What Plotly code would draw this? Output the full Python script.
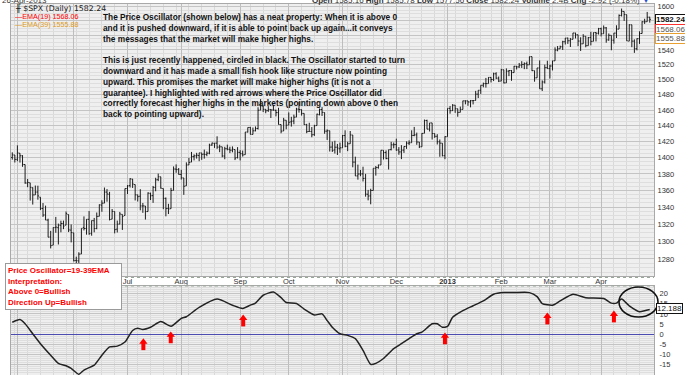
import math
import pandas as pd
import plotly.graph_objects as go

# ---------------- data ----------------
first_day, last_day = "2012-04-27", "2013-04-26"
market_holidays = ["2012-05-28", "2012-07-04", "2012-09-03", "2012-10-29", "2012-10-30",
                   "2012-11-22", "2012-12-25", "2013-01-01", "2013-01-21", "2013-02-18",
                   "2013-03-29"]
# May and Jun labels sit under the oscillator note box in the reference, so they are blank
month_labels = ["", "", "Jul", "Aug", "Sep", "Oct", "Nov", "Dec", "<b>2013</b>",
                "Feb", "Mar", "Apr"]

open_ = [1400.2, 1403.3,
         1397.9, 1405.5, 1402.3, 1391.5, 1368.8, 1369.2, 1363.2, 1354.6, 1358.1, 1351.9, 1338.4, 1330.8, 1324.8, 1305.1, 1295.7, 1316.1, 1316.0, 1318.7, 1320.8, 1318.9, 1331.3, 1313.1,
         1309.9, 1278.3, 1277.8, 1285.6, 1316.2, 1315.0, 1325.7, 1309.4, 1324.0, 1314.9, 1329.2, 1342.4, 1344.8, 1358.0, 1355.4, 1325.9, 1334.9, 1314.1, 1320.1, 1331.5, 1330.1,
         1362.3, 1365.8, 1373.7, 1367.1, 1354.7, 1353.0, 1341.4, 1341.4, 1334.8, 1356.5, 1353.7, 1363.6, 1373.0, 1376.5, 1362.3, 1350.5, 1338.4, 1338.2, 1360.1, 1385.9, 1385.3,
         1379.3, 1375.1, 1365.5, 1391.0, 1394.5, 1401.2, 1402.3, 1402.6, 1405.9, 1404.4, 1403.9, 1405.6, 1415.8, 1417.9, 1418.1, 1413.1, 1413.5, 1402.0, 1411.1, 1410.4, 1409.3, 1410.1, 1400.1,
         1406.5, 1404.9, 1403.7, 1432.1, 1437.9, 1429.1, 1433.6, 1436.6, 1460.1, 1465.4, 1461.2, 1459.5, 1461.0, 1460.3, 1459.8, 1456.9, 1441.6, 1433.4, 1447.1,
         1440.9, 1445.0, 1446.1, 1451.1, 1461.4, 1460.9, 1455.9, 1441.5, 1432.8, 1432.8, 1428.8, 1440.3, 1454.2, 1460.9, 1457.1, 1433.2, 1433.7, 1413.2, 1409.7, 1413.0, 1411.0,
         1412.2, 1427.6, 1414.0, 1417.3, 1428.3, 1394.5, 1377.6, 1379.9, 1380.0, 1374.6, 1355.4, 1353.4, 1359.9, 1386.8, 1387.8, 1391.0, 1409.2, 1406.3, 1398.8, 1410.0, 1416.0,
         1416.3, 1409.5, 1407.1, 1409.4, 1414.0, 1418.1, 1418.6, 1427.8, 1428.5, 1419.5, 1413.5, 1430.5, 1446.8, 1435.8, 1443.7, 1430.2, 1426.7, 1419.8, 1418.1, 1402.4,
         1426.2, 1462.4, 1459.4, 1466.5, 1461.9, 1457.2, 1461.0, 1472.1, 1472.1, 1470.7, 1472.3, 1472.6, 1480.9, 1486.0, 1492.6, 1494.8, 1494.8, 1503.0, 1500.2, 1507.8, 1502.0,
         1498.1, 1513.2, 1495.7, 1511.3, 1512.1, 1509.4, 1517.9, 1517.0, 1519.4, 1520.3, 1521.4, 1519.8, 1530.9, 1512.0, 1502.4, 1515.6, 1487.9, 1496.9, 1516.0,
         1514.7, 1518.2, 1525.2, 1539.8, 1541.5, 1544.3, 1551.2, 1556.2, 1552.5, 1554.5, 1563.2, 1560.7, 1552.1, 1548.3, 1558.7, 1545.8, 1556.9, 1551.7, 1563.8, 1562.9,
         1569.2, 1562.2, 1570.3, 1553.7, 1560.0, 1553.3, 1563.1, 1568.6, 1587.7, 1593.3, 1588.8, 1552.0, 1574.6, 1552.0, 1541.6, 1555.3, 1562.5, 1578.8, 1578.9, 1585.2]

high = [1406.6, 1403.3,
        1415.3, 1405.5, 1403.1, 1391.5, 1373.9, 1369.2, 1363.7, 1365.9, 1365.7, 1351.9, 1344.9, 1341.8, 1326.4, 1312.2, 1316.4, 1328.5, 1320.7, 1324.1, 1324.2, 1334.9, 1331.3, 1319.7,
        1309.9, 1282.6, 1287.6, 1315.1, 1329.1, 1325.8, 1335.5, 1324.3, 1327.3, 1333.7, 1343.3, 1348.2, 1363.5, 1361.6, 1358.3, 1337.8, 1334.9, 1324.2, 1334.4, 1331.5, 1362.2,
        1366.4, 1374.8, 1373.9, 1367.1, 1354.9, 1361.5, 1345.0, 1341.4, 1357.7, 1357.3, 1365.4, 1375.3, 1380.4, 1376.5, 1362.3, 1351.5, 1344.0, 1363.1, 1389.2, 1391.7, 1387.2,
        1385.0, 1375.1, 1394.2, 1399.6, 1407.1, 1404.1, 1406.0, 1406.0, 1405.9, 1410.0, 1407.7, 1417.4, 1418.7, 1418.1, 1426.7, 1416.1, 1413.5, 1413.5, 1416.2, 1413.6, 1414.0, 1410.1, 1413.1,
        1409.3, 1408.8, 1432.1, 1437.9, 1438.7, 1437.8, 1439.2, 1463.8, 1474.5, 1465.6, 1461.5, 1465.2, 1461.2, 1467.1, 1460.7, 1463.2, 1441.6, 1450.2, 1447.1,
        1457.1, 1451.5, 1454.3, 1463.1, 1471.0, 1460.9, 1455.9, 1442.5, 1443.9, 1438.4, 1441.3, 1455.5, 1462.2, 1464.0, 1457.1, 1435.5, 1433.7, 1420.0, 1421.1, 1417.1, 1418.8,
        1428.4, 1434.3, 1419.9, 1433.4, 1428.3, 1401.2, 1391.4, 1384.9, 1388.8, 1380.1, 1360.6, 1362.0, 1386.9, 1389.7, 1391.3, 1409.2, 1409.2, 1409.0, 1410.0, 1419.7, 1418.9,
        1423.7, 1413.1, 1415.6, 1414.0, 1420.3, 1421.6, 1434.3, 1438.6, 1431.4, 1419.5, 1430.7, 1448.0, 1447.8, 1443.7, 1443.7, 1430.2, 1429.4, 1422.7, 1418.1, 1426.7,
        1462.4, 1465.5, 1467.9, 1466.5, 1461.9, 1464.7, 1472.3, 1472.8, 1472.1, 1473.3, 1473.0, 1485.2, 1486.0, 1492.6, 1496.1, 1502.3, 1503.3, 1503.2, 1509.3, 1509.9, 1504.2,
        1514.4, 1513.2, 1515.0, 1512.5, 1512.9, 1518.3, 1518.3, 1522.3, 1524.7, 1523.1, 1524.2, 1530.9, 1530.9, 1512.0, 1515.6, 1525.8, 1499.0, 1520.1, 1525.3,
        1520.0, 1525.3, 1543.5, 1545.3, 1545.8, 1552.5, 1556.3, 1556.8, 1556.4, 1563.3, 1563.6, 1560.7, 1557.3, 1561.6, 1558.7, 1557.7, 1564.9, 1563.9, 1564.1, 1570.3,
        1570.6, 1573.7, 1571.5, 1562.6, 1560.0, 1563.1, 1573.9, 1589.1, 1597.4, 1593.3, 1588.8, 1575.4, 1574.6, 1554.4, 1555.9, 1565.6, 1579.6, 1583.0, 1592.6, 1585.8]

low = [1397.5, 1394.0,
       1395.7, 1393.9, 1388.7, 1368.0, 1363.9, 1347.8, 1343.1, 1354.6, 1348.9, 1336.6, 1328.5, 1324.8, 1304.9, 1292.0, 1295.7, 1310.0, 1296.5, 1310.5, 1314.2, 1318.9, 1310.8, 1298.9,
       1277.3, 1266.7, 1274.7, 1285.6, 1312.7, 1307.8, 1307.7, 1306.6, 1310.5, 1314.1, 1329.2, 1334.5, 1344.8, 1346.5, 1324.4, 1325.9, 1309.3, 1310.3, 1320.1, 1313.3, 1330.1,
       1355.7, 1363.5, 1363.0, 1348.0, 1346.7, 1336.3, 1333.3, 1325.4, 1334.8, 1348.5, 1345.1, 1359.0, 1371.2, 1362.2, 1337.6, 1329.2, 1331.9, 1338.2, 1360.1, 1381.4, 1379.2,
       1373.1, 1354.7, 1365.5, 1391.0, 1394.5, 1396.6, 1398.8, 1395.6, 1397.3, 1398.8, 1401.8, 1404.2, 1414.7, 1412.1, 1410.9, 1406.8, 1400.5, 1398.0, 1409.1, 1405.6, 1406.6, 1397.0, 1399.0,
       1396.6, 1401.3, 1403.7, 1431.5, 1429.0, 1429.1, 1433.0, 1435.3, 1460.1, 1457.6, 1456.1, 1457.9, 1450.0, 1459.5, 1452.1, 1441.6, 1430.5, 1433.4, 1435.6,
       1440.9, 1439.0, 1442.0, 1451.1, 1456.9, 1453.1, 1441.2, 1430.6, 1432.8, 1425.5, 1427.2, 1440.3, 1453.4, 1452.6, 1429.9, 1422.1, 1407.6, 1407.1, 1405.1, 1403.3, 1406.0,
       1412.2, 1412.9, 1408.1, 1417.3, 1388.1, 1377.5, 1373.0, 1377.2, 1370.8, 1352.5, 1348.1, 1343.4, 1359.9, 1377.9, 1386.4, 1391.0, 1397.7, 1398.0, 1385.4, 1409.0, 1411.6,
       1408.5, 1403.6, 1398.2, 1405.9, 1410.9, 1415.6, 1418.6, 1426.8, 1416.0, 1411.9, 1413.5, 1430.5, 1435.8, 1432.8, 1422.6, 1424.7, 1416.4, 1401.1, 1401.6, 1398.1,
       1426.2, 1455.5, 1459.0, 1456.6, 1451.6, 1457.2, 1461.0, 1467.6, 1465.7, 1463.7, 1467.5, 1472.6, 1475.8, 1481.2, 1489.9, 1489.5, 1494.8, 1496.3, 1498.1, 1501.0, 1496.8,
       1498.1, 1495.0, 1495.7, 1504.7, 1498.5, 1509.4, 1513.6, 1515.6, 1515.6, 1514.0, 1514.1, 1519.8, 1511.4, 1497.3, 1502.4, 1487.9, 1485.0, 1494.9, 1514.5,
       1501.5, 1512.3, 1525.2, 1538.1, 1541.5, 1539.9, 1547.4, 1548.2, 1544.0, 1554.5, 1555.7, 1545.1, 1538.6, 1548.3, 1543.6, 1545.8, 1546.2, 1551.7, 1551.6, 1561.1,
       1558.5, 1562.2, 1549.8, 1552.5, 1539.5, 1548.6, 1556.3, 1568.6, 1586.2, 1580.0, 1552.3, 1552.0, 1543.7, 1536.0, 1539.4, 1548.2, 1562.5, 1575.8, 1578.9, 1577.6]

close = [1403.4, 1397.9,
         1405.8, 1402.3, 1391.6, 1369.1, 1369.6, 1363.7, 1354.6, 1358.0, 1353.4, 1338.4, 1330.7, 1324.8, 1304.9, 1295.2, 1316.0, 1316.6, 1318.9, 1320.7, 1317.8, 1332.4, 1313.3, 1310.3,
         1278.0, 1278.2, 1285.5, 1315.1, 1315.0, 1325.7, 1308.9, 1324.2, 1314.9, 1329.1, 1342.8, 1344.8, 1358.0, 1355.7, 1325.5, 1335.0, 1313.7, 1320.0, 1331.9, 1329.0, 1362.2,
         1365.5, 1374.0, 1367.6, 1354.7, 1352.5, 1341.5, 1341.5, 1334.8, 1356.8, 1353.6, 1363.7, 1372.8, 1376.5, 1362.7, 1350.5, 1338.3, 1337.9, 1360.0, 1386.0, 1385.3, 1379.3,
         1375.3, 1365.0, 1391.0, 1394.2, 1401.4, 1402.2, 1403.0, 1405.9, 1404.1, 1403.9, 1405.5, 1415.5, 1418.2, 1418.1, 1413.2, 1413.5, 1402.1, 1411.1, 1410.4, 1409.3, 1410.5, 1399.5, 1406.6,
         1404.9, 1403.4, 1432.1, 1437.9, 1429.1, 1433.6, 1436.6, 1460.0, 1465.8, 1461.2, 1459.3, 1461.1, 1460.3, 1460.2, 1456.9, 1441.6, 1433.3, 1447.2, 1440.7,
         1444.5, 1445.8, 1451.0, 1461.4, 1460.9, 1455.9, 1441.5, 1432.6, 1432.8, 1428.6, 1440.1, 1454.9, 1460.9, 1457.3, 1433.2, 1433.8, 1413.1, 1408.8, 1413.0, 1411.9, 1412.2,
         1427.6, 1414.2, 1417.3, 1428.4, 1394.5, 1377.5, 1379.9, 1380.0, 1374.5, 1355.5, 1353.3, 1359.9, 1386.9, 1387.8, 1391.0, 1409.2, 1406.3, 1398.9, 1409.9, 1416.0, 1416.2,
         1409.5, 1407.1, 1409.3, 1413.9, 1418.1, 1418.6, 1427.8, 1428.5, 1419.5, 1413.6, 1430.4, 1446.8, 1435.8, 1443.7, 1430.2, 1426.7, 1419.8, 1418.1, 1402.4, 1426.2,
         1462.4, 1459.4, 1466.5, 1461.9, 1457.2, 1461.0, 1472.1, 1472.1, 1470.7, 1472.3, 1472.6, 1480.9, 1486.0, 1492.6, 1494.8, 1494.8, 1503.0, 1500.2, 1507.8, 1502.0, 1498.1,
         1513.2, 1495.7, 1511.3, 1512.1, 1509.4, 1517.9, 1517.0, 1519.4, 1520.3, 1521.4, 1519.8, 1530.9, 1512.0, 1502.4, 1515.6, 1487.9, 1496.9, 1516.0, 1514.7,
         1518.2, 1525.2, 1539.8, 1541.5, 1544.3, 1551.2, 1556.2, 1552.5, 1554.5, 1563.2, 1560.7, 1552.1, 1548.3, 1558.7, 1545.8, 1556.9, 1551.7, 1563.8, 1562.9, 1569.2,
         1562.2, 1570.3, 1553.7, 1560.0, 1553.3, 1563.1, 1568.6, 1587.7, 1593.4, 1588.9, 1552.4, 1574.6, 1552.0, 1541.6, 1555.3, 1562.5, 1578.8, 1578.8, 1585.2, 1582.2]

# price oscillator (EMA19 - EMA39) at bar positions
osc_idx = [0, 3, 5, 8, 11, 15, 18, 21, 23, 26, 28, 32, 35, 38, 41, 44, 47, 49, 51, 54,
           58, 62, 66, 68, 73, 80, 86, 90, 93, 95, 98, 102, 105, 107, 111, 114, 118, 121, 123, 125,
           128, 131, 134, 137, 140, 142, 145, 149, 152, 155, 158, 160, 164, 166, 168, 170, 172, 176, 180, 184,
           188, 192, 196, 202, 205, 207, 211, 214, 219, 224, 231, 234, 236, 238, 241, 245, 247, 249]
osc_val = [5.9, 7.2, 5.1, 0.2, -4.7, -10.4, -14.4, -15.6, -16.9, -19.8, -17.7, -15.3, -10.4, -6.3, -5.9, -3.9, 1.8, 2.9, 2.3, 3.4,
           6.2, 3.9, 7.8, 8.6, 13.2, 17.3, 14.3, 12.7, 14.3, 15.3, 19.2, 20.8, 18.0, 15.6, 15.1, 12.4, 9.5, 10.0, 6.7, 3.4,
           0.2, -0.6, -2.2, -8.0, -14.9, -14.4, -12.0, -7.1, -4.7, -2.2, 0.2, 1.0, 5.1, 5.1, 3.4, 3.8, 8.3, 11.6, 14.0, 16.4,
           19.7, 20.5, 20.5, 20.5, 18.5, 15.1, 14.3, 16.4, 19.7, 18.0, 17.6, 15.3, 15.3, 17.3, 14.0, 11.1, 11.6, 12.19]

# red arrows (bar position, oscillator value at arrow tip)
arrow_idx = [51.2, 61.9, 90.2, 169.0, 209.0, 235.0]
arrow_tip = [-2.1, 1.3, 9.6, 0.8, 10.6, 11.6]

last_close, ema19_last, ema39_last, osc_last = 1582.24, 1568.06, 1555.88, 12.188
price_ticks = list(range(1280, 1601, 20))
price_hidden = [1580, 1560]          # covered by the value tags in the reference
osc_ticks = list(range(-20, 21, 5))

# ---------------- derived positions ----------------
dates = pd.bdate_range(first_day, last_day)
dates = dates[~dates.isin(pd.to_datetime(market_holidays))]
n = len(dates)
assert n == len(open_) == len(high) == len(low) == len(close), (n, len(open_), len(high), len(low), len(close))
xs = list(range(n))
month_start = [i for i in xs if i > 0 and dates[i].month != dates[i - 1].month]
week_start = [i for i in xs if i > 0 and dates[i].weekday() < dates[i - 1].weekday()]

W, H = 685, 375
ML, MR, MT, MB = 11, 31, 4, 0
PW, PH = W - ML - MR, H - MT - MB


def py(p):  # figure pixel row -> paper y
    return (H - MB - p) / PH


def px(p):  # figure pixel column -> paper x
    return (p - ML) / PW


price_dom = [py(276), 1.0]
osc_dom = [0.0, py(286)]
x_range = [-0.5, 250.66]
logtop = math.log10(1600) + (6.7 - 4) / 2603
logbot = math.log10(1600) - (276 - 6.7) / 2603
osc_range = [-20.15, 23.76]
osc_px_per_unit = (osc_dom[1] - osc_dom[0]) * PH / (osc_range[1] - osc_range[0])

FONT = "Liberation Sans, Arial, sans-serif"
GRID_MAJ, GRID_MIN = "#bdbdbd", "#d9d9d9"

fig = go.Figure()
fig.add_trace(go.Ohlc(
    x=xs, open=open_, high=high, low=low, close=close, xaxis="x", yaxis="y",
    increasing=dict(line=dict(color="#1c1c1c", width=1)),
    decreasing=dict(line=dict(color="#1c1c1c", width=1)),
    tickwidth=0.42, showlegend=False, hoverinfo="skip"))

fig.add_trace(go.Scatter(
    x=osc_idx, y=osc_val, xaxis="x2", yaxis="y2", mode="lines",
    line=dict(color="#222222", width=1.5, shape="spline", smoothing=0.6),
    showlegend=False, hoverinfo="skip"))

head_y = [t - 3.5 / osc_px_per_unit for t in arrow_tip]
stem_y = [t - 7.8 / osc_px_per_unit for t in arrow_tip]
fig.add_trace(go.Scatter(
    x=arrow_idx, y=stem_y, xaxis="x2", yaxis="y2", mode="markers",
    marker=dict(symbol="line-ns", size=5.6, line=dict(color="#ff0000", width=4)),
    showlegend=False, hoverinfo="skip", cliponaxis=False))
fig.add_trace(go.Scatter(
    x=arrow_idx, y=head_y, xaxis="x2", yaxis="y2", mode="markers",
    marker=dict(symbol="triangle-up", size=7.2, color="#ff0000", line=dict(width=0)),
    showlegend=False, hoverinfo="skip", cliponaxis=False))

tickfont = dict(family=FONT, size=7.5, color="#333333")
common_x = dict(range=x_range, tickmode="array", tickvals=month_start, ticks="",
                showgrid=True, gridcolor=GRID_MAJ, gridwidth=1,
                minor=dict(tickvals=week_start, showgrid=True, gridcolor=GRID_MIN, ticks=""),
                zeroline=False, showline=True, linecolor="#a9a9a9", linewidth=1, mirror=True,
                fixedrange=True)

fig.update_layout(
    width=W, height=H, margin=dict(l=ML, r=MR, t=MT, b=MB),
    paper_bgcolor="white", plot_bgcolor="#efefef", showlegend=False,
    font=dict(family=FONT, size=8, color="#222"),
    xaxis=dict(domain=[0, 1], anchor="y", ticktext=month_labels, tickfont=tickfont,
               ticklabelstandoff=-2, rangeslider=dict(visible=False), **common_x),
    yaxis=dict(domain=price_dom, type="log", range=[logbot, logtop], side="right",
               tickmode="array", tickvals=price_ticks,
               ticktext=["" if v in price_hidden else str(v) for v in price_ticks],
               tickfont=tickfont, ticks="", ticklabelstandoff=1,
               showgrid=True, gridcolor="#c4c4c4",
               minor=dict(tickvals=[v for v in range(1260, 1605, 5) if v % 20], showgrid=True,
                          gridcolor="#dedede", ticks=""),
               zeroline=False, showline=True, linecolor="#a9a9a9", mirror=True, fixedrange=True),
    xaxis2=dict(domain=[0, 1], anchor="y2", showticklabels=False, **common_x),
    yaxis2=dict(domain=osc_dom, range=osc_range, side="right", tickmode="array",
                tickvals=osc_ticks, ticktext=[str(v) for v in osc_ticks], tickfont=tickfont,
                ticks="", ticklabelstandoff=3, showgrid=True, gridcolor="#c4c4c4",
                minor=dict(tickvals=[v for v in range(-21, 24) if v % 5], showgrid=True,
                           gridcolor="#dedede", ticks=""),
                zeroline=True, zerolinecolor="#4b4bb0", zerolinewidth=1.3,
                showline=True, linecolor="#a9a9a9", mirror=True, fixedrange=True),
)

# dotted borders of the date strip
for yy in (py(277.5), py(286)):
    fig.add_shape(type="line", xref="paper", yref="paper", x0=0, x1=1, y0=yy, y1=yy,
                  line=dict(color="#9aa89a", width=1, dash="dot"))

# circle around the fish hook
fig.add_shape(type="circle", xref="paper", yref="paper",
              x0=px(619), x1=px(658), y0=py(317), y1=py(287),
              line=dict(color="#111111", width=1.6))

ann = []
main_text = ("The Price Oscillator (shown below) has a neat property: When it is above 0<br>"
             "and it is pushed downward, if it is able to point back up again...it conveys<br>"
             "the messages that the market will make higher highs.<br> <br>"
             "This is just recently happened, circled in black. The Oscillator started to turn<br>"
             "downward and it has made a small fish hook like structure now pointing<br>"
             "upward. This promises the market will make higher highs (it is not a<br>"
             "guarantee). I highlighted with red arrows where the Price Oscillator did<br>"
             "correctly forecast higher highs in the markets (pointing down above 0 then<br>"
             "back to pointing upward).")
ann.append(dict(text=main_text, xref="paper", yref="paper", x=px(101.5), y=py(10.5),
                xanchor="left", yanchor="top", align="left", showarrow=False, borderpad=0,
                font=dict(family=FONT, size=8.3, color="#111111", weight="bold")))

ann.append(dict(text="Price Oscillator=19-39EMA<br>Interpretation:<br>Above 0=Bullish<br>Direction Up=Bullish",
                xref="paper", yref="paper", x=px(5), y=py(263), xanchor="left", yanchor="top",
                align="left", showarrow=False, bgcolor="white", bordercolor="#9a9a9a",
                borderwidth=1, borderpad=2, width=111, height=41,
                font=dict(family=FONT, size=8, color="#ff0000", weight="bold")))

# header (cut at top edge)
ann.append(dict(text="26-Apr-2013", xref="paper", yref="paper", x=px(0), y=py(1),
                xanchor="left", yanchor="middle", showarrow=False,
                font=dict(family=FONT, size=8, color="#333")))
ann.append(dict(text=("<b>Open</b> 1585.16 <b>High</b> 1585.78 <b>Low</b> 1577.56 "
                      "<b>Close</b> 1582.24 <b>Volume</b> 2.4B <b>Chg</b> -2.92 (-0.18%) "
                      "<span style='color:#2a4fd0'>▼</span>"),
                xref="paper", yref="paper", x=px(652), y=py(1), xanchor="right",
                yanchor="middle", showarrow=False, font=dict(family=FONT, size=8, color="#333")))

# legend-like labels
ann.append(dict(text="╫ $SPX (Daily) 1582.24", xref="paper", yref="paper", x=px(12.5), y=py(8.3),
                xanchor="left", yanchor="middle", showarrow=False,
                font=dict(family="DejaVu Sans", size=7.8, color="#222")))
ann.append(dict(text="—EMA(19) 1568.06", xref="paper", yref="paper", x=px(12.5), y=py(16.2),
                xanchor="left", yanchor="middle", showarrow=False,
                font=dict(family=FONT, size=7.2, color="#ff0000")))
ann.append(dict(text="—EMA(39) 1555.88", xref="paper", yref="paper", x=px(12.5), y=py(24.2),
                xanchor="left", yanchor="middle", showarrow=False,
                font=dict(family=FONT, size=7.2, color="#e09a20")))

# right-hand value tags
for val, border, col, wt in [(last_close, "#111111", "#111111", "bold"),
                             (ema19_last, "#ff3030", "#555555", "normal"),
                             (ema39_last, "#e8a030", "#555555", "normal")]:
    ann.append(dict(text=f"{val:.2f}", xref="paper", yref="y", x=px(655), y=math.log10(val),
                    xanchor="left", yanchor="middle", showarrow=False, bgcolor="white",
                    bordercolor=border, borderwidth=1, borderpad=0,
                    font=dict(family=FONT, size=8, color=col, weight=wt)))
ann.append(dict(text=f"{osc_last:.3f}", xref="paper", yref="y2", x=px(655.5), y=osc_last + 0.4,
                xanchor="left", yanchor="middle", showarrow=False, bgcolor="white",
                bordercolor="#111111", borderwidth=1, borderpad=0,
                font=dict(family=FONT, size=8, color="#111111")))

fig.update_layout(annotations=ann)
# remove the browser's default 8px body margin so the figure sits at the window's corner
fig.write_html("out.html", config={"displayModeBar": False},
               post_script="document.body.style.margin='0px';")
